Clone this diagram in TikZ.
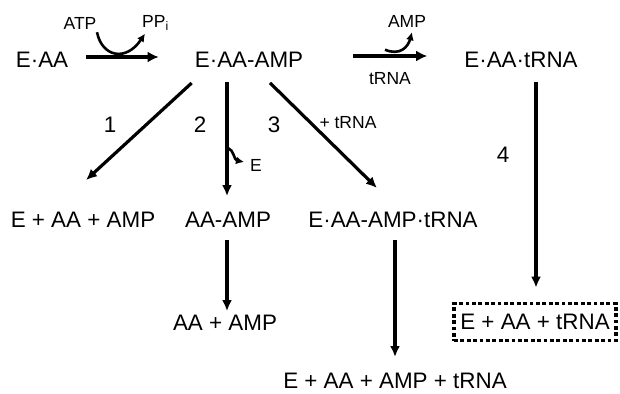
\documentclass[tikz,border=0pt]{standalone}
\usepackage{fontspec}
\setmainfont{Liberation Sans}
\usetikzlibrary{arrows.meta,calc}
\begin{document}
\begin{tikzpicture}[x=1pt,y=-1pt,
  lab/.style={font=\fontsize{22.4}{22.4}\selectfont, inner sep=0pt, anchor=center},
  sm/.style={font=\fontsize{17.5}{17.5}\selectfont, inner sep=0pt},
  arr/.style={line width=3.2pt, -{Latex[length=11pt,width=10pt]}},
  toparr/.style={line width=4pt, -{Latex[length=11pt,width=11pt]}},
  side/.style={line width=2.6pt, -{Latex[length=8pt,width=8pt]}},
  dotbox/.style={draw, line width=3.8pt, dash pattern=on 3.8pt off 2.6pt, inner sep=0pt, minimum width=162pt, minimum height=37pt}]
\useasboundingbox[fill=white] (0,0) rectangle (620,393);

% main species
\node[lab] (eaa) at (42,60) {E·AA};
\node[lab] (eaaamp) at (249,60) {E·AA-AMP};
\node[lab] (eaatrna) at (521,60) {E·AA·tRNA};
\node[lab] (p1) at (83,220) {E + AA + AMP};
\node[lab] (aaamp) at (228,220) {AA-AMP};
\node[lab] (eaaampt) at (393,220) {E·AA-AMP·tRNA};
\node[lab] (aaplus) at (225,323) {AA + AMP};
\node[lab] (final) at (395,381) {E + AA + AMP + tRNA};
\node[lab, dotbox] (boxed) at (535,322) {E + AA + tRNA};

% small labels
\node[sm] (atp) at (80,23) {ATP};
\node[sm, anchor=west] (ppi) at (142,23) {PP\textsubscript{i}};
\node[sm] (amp) at (407,21) {AMP};
\node[sm] (trnab) at (390,79) {tRNA};
\node[sm] (elab) at (256,165) {E};
\node[sm] (ptrna) at (348,123) {+ tRNA};

% path numbers
\node[lab] (n1) at (110,125) {1};
\node[lab] (n2) at (200,125) {2};
\node[lab] (n3) at (274,125) {3};
\node[lab] (n4) at (503,155) {4};

% top arrows
\draw[toparr] ($(eaa.east)+(18,-3)$) -- ($(eaaamp.west)+(-36,-3)$);
\draw[side] ($(atp.south)+(17,3)$) .. controls (102,57) and (126,62) .. ($(ppi.south west)+(3,3)$);
\draw[toparr] ($(eaaamp.east)+(50,-4)$) -- ($(eaatrna.west)+(-37,-4)$);
\draw[side] ($(trnab.north)+(-5,-23)$) .. controls (400,56) and (408,47) .. ($(amp.south)+(5,5)$);

% branch arrows
\draw[arr] ($(eaaamp.west)+(-3,23)$) -- ($(p1.north)+(3,-32)$);
\draw[arr] ($(eaaamp.south)+(-22,14)$) -- ($(aaamp.north)+(-1,-16)$);
\draw[side] (228,148) .. controls (234,150) and (234,160) .. ($(elab.west)+(-6,-3)$);
\draw[arr] ($(eaaamp.south)+(21,15)$) -- ($(eaaampt.north)+(-16,-24)$);
\draw[arr] ($(eaatrna.south)+(15,14)$) -- ($(boxed.north)+(1,-14)$);
\draw[arr] ($(aaamp.south)+(-1,12)$) -- ($(aaplus.north)+(2,-4)$);
\draw[arr] ($(eaaampt.south)+(2,12)$) -- ($(final.north)+(0,-16)$);
\end{tikzpicture}
\end{document}
